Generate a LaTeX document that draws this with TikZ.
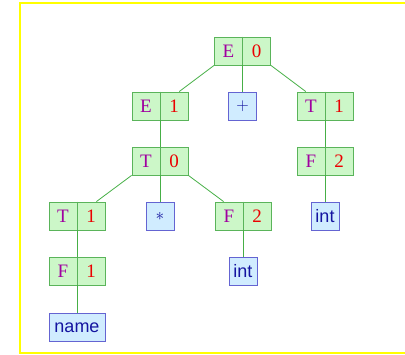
\documentclass[tikz,border=0pt]{standalone}
\usepackage{fontspec}
\newfontfamily\boxsans{Liberation Sans}
\newfontfamily\boxserif{Liberation Serif}
\definecolor{gfill}{RGB}{204,247,200}
\definecolor{gdraw}{RGB}{90,180,90}
\definecolor{bfill}{RGB}{208,236,255}
\definecolor{bdraw}{RGB}{100,100,210}
\definecolor{lettc}{RGB}{160,0,160}
\definecolor{numc}{RGB}{235,0,0}
\definecolor{btext}{RGB}{20,20,160}
\definecolor{edgec}{RGB}{70,175,70}
\definecolor{framec}{RGB}{255,255,0}
\tikzset{
  gbox/.style={draw=gdraw, fill=gfill, line width=0.9pt, minimum width=56pt, minimum height=28pt, inner sep=0pt},
  bbox/.style={draw=bdraw, fill=bfill, line width=0.9pt, minimum width=28pt, minimum height=28pt, inner sep=2pt, text=btext, font=\boxsans\fontsize{18}{20}\selectfont},
  lett/.style={text=lettc, font=\boxserif\fontsize{19}{21}\selectfont, inner sep=0pt},
  numb/.style={text=numc, font=\boxserif\fontsize{19}{21}\selectfont, inner sep=0pt},
  edge/.style={draw=edgec, line width=0.8pt},
}
\newcommand{\gnode}[4]{%
  \node[gbox] (#1) at #2 {};
  \draw[gdraw, line width=0.9pt] (#1.north) -- (#1.south);
  \node[lett] (#1l) at ([xshift=-14pt]#1.center) {#3};
  \node[numb] (#1n) at ([xshift=14pt]#1.center) {#4};
}
\begin{document}
\begin{tikzpicture}[x=1pt,y=-1pt]
\useasboundingbox (0,0) rectangle (405,355);
\draw[draw=framec, line width=2pt] (420,3.5) -- (19.5,3.5) -- (19.5,353.5) -- (420,353.5);
% nodes
\gnode{E0}{(242.5,51)}{E}{0}
\gnode{E1}{(160,106)}{E}{1}
\node[bbox, font=\fontsize{18}{20}\selectfont] (plus) at (242.5,106) {$+$};
\gnode{T1r}{(325,106)}{T}{1}
\gnode{F2r}{(325,161)}{F}{2}
\node[bbox] (intr) at (325,216.5) {int};
\gnode{T0}{(160,161)}{T}{0}
\gnode{T1l}{(77,216)}{T}{1}
\node[bbox, font=\fontsize{18}{20}\selectfont] (star) at (160,216) {$\ast$};
\gnode{F2m}{(243,216)}{F}{2}
\node[bbox] (intm) at (243,271.5) {int};
\gnode{F1}{(77,271)}{F}{1}
\node[bbox, minimum width=56pt] (name) at (77,327.5) {name};
% edges
\draw[edge] (E0.south west) -- (E1);
\draw[edge] (E0.south) -- (plus.north);
\draw[edge] (E0.south east) -- (T1r);
\draw[edge] (E1.south) -- (T0.north);
\draw[edge] (T1r.south) -- (F2r.north);
\draw[edge] (F2r.south) -- (intr.north);
\draw[edge] (T0.south west) -- (T1l);
\draw[edge] (T0.south) -- (star.north);
\draw[edge] (T0.south east) -- (F2m);
\draw[edge] (F2m.south) -- (intm.north);
\draw[edge] (T1l.south) -- (F1.north);
\draw[edge] (F1.south) -- (name.north);
\end{tikzpicture}
\end{document}
